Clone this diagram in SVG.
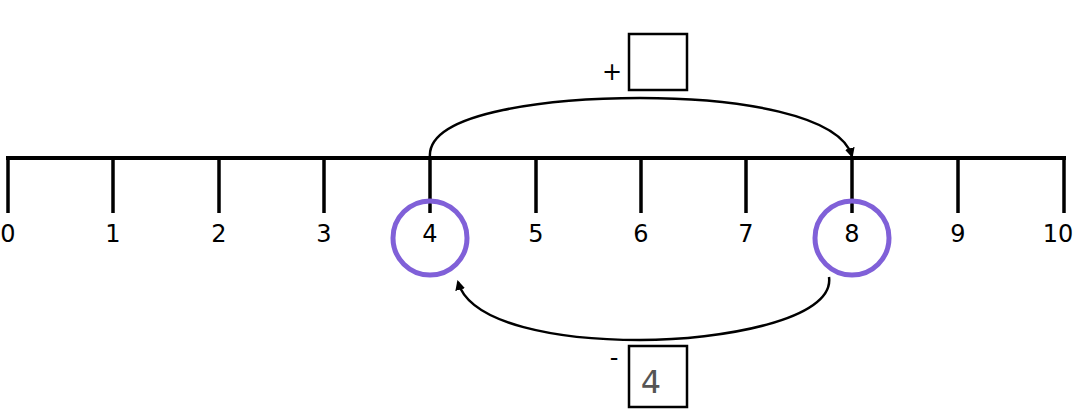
<svg xmlns="http://www.w3.org/2000/svg" width="1080" height="417" viewBox="0 0 1080 417">
<style>
.t{font-family:"DejaVu Sans","Liberation Sans",sans-serif;font-size:24px;fill:#000;text-anchor:middle}
.tick{stroke:#000;stroke-width:3.5}
.c{fill:none;stroke:#8060d8;stroke-width:5}
.box{fill:#fff;stroke:#000;stroke-width:2.5}
.arc{fill:none;stroke:#000;stroke-width:2.5;marker-end:url(#ah)}
</style>
<defs><marker id="ah" markerWidth="10" markerHeight="10" refX="8" refY="5" orient="auto" markerUnits="userSpaceOnUse"><path d="M0,0 L10,5 L0,10 Z" fill="#000"/></marker></defs>
<g id="line">
<line x1="6" y1="158" x2="1066" y2="158" stroke="#000" stroke-width="4"/>
<line class="tick" x1="8" y1="158" x2="8" y2="213"/>
<line class="tick" x1="113" y1="158" x2="113" y2="213"/>
<line class="tick" x1="219" y1="158" x2="219" y2="213"/>
<line class="tick" x1="324" y1="158" x2="324" y2="213"/>
<line class="tick" x1="430" y1="158" x2="430" y2="213"/>
<line class="tick" x1="536" y1="158" x2="536" y2="213"/>
<line class="tick" x1="641" y1="158" x2="641" y2="213"/>
<line class="tick" x1="746" y1="158" x2="746" y2="213"/>
<line class="tick" x1="852" y1="158" x2="852" y2="213"/>
<line class="tick" x1="958" y1="158" x2="958" y2="213"/>
<line class="tick" x1="1064" y1="158" x2="1064" y2="213"/>
</g>
<g id="labels">
<text class="t" x="8" y="242">0</text>
<text class="t" x="113" y="242">1</text>
<text class="t" x="219" y="242">2</text>
<text class="t" x="324" y="242">3</text>
<text class="t" x="430" y="242">4</text>
<text class="t" x="536" y="242">5</text>
<text class="t" x="641" y="242">6</text>
<text class="t" x="746" y="242">7</text>
<text class="t" x="852" y="242">8</text>
<text class="t" x="958" y="242">9</text>
<text class="t" x="1058" y="242">10</text>
</g>
<g id="circle4"><circle class="c" cx="430" cy="238" r="37"/></g>
<g id="circle8"><circle class="c" cx="852" cy="238" r="37"/></g>
<g id="connectors">
<path class="arc" d="M430,158 C425,110 560,98 640,98 C740,98 840,115 852,156"/>
<path class="arc" d="M829,277 C835,320 720,340 640,340 C560,340 470,325 458,282"/>
</g>
<g id="topbox">
<rect class="box" x="629" y="34" width="58" height="56"/>
<text class="t" x="612" y="80">+</text>
</g>
<g id="bottombox">
<rect class="box" x="629" y="346" width="58" height="61"/>
<text class="t" x="614" y="366">-</text>
<text class="t" x="651" y="393" style="font-size:32px;fill:#555">4</text>
</g>
</svg>
